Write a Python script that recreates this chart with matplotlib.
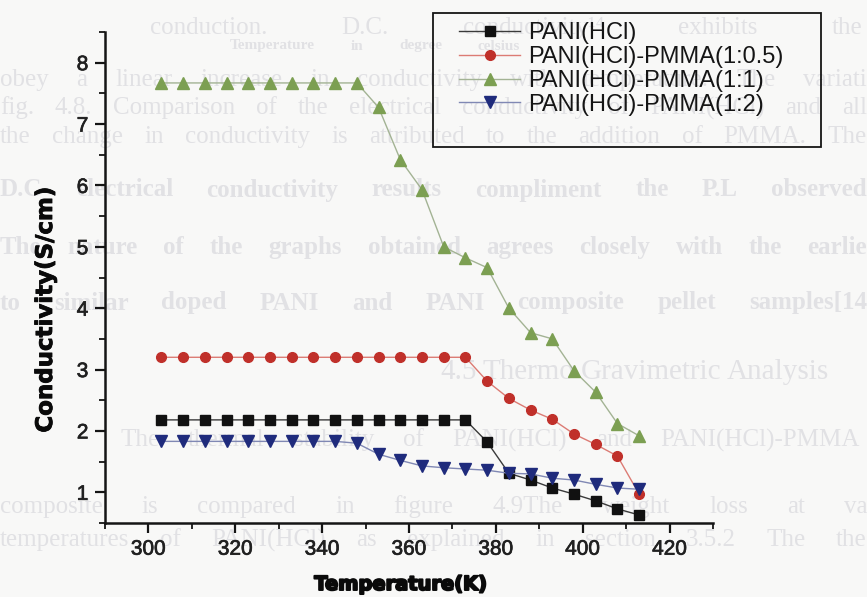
import matplotlib
matplotlib.use("Agg")
import matplotlib.pyplot as plt
from matplotlib.ticker import MultipleLocator
from matplotlib.patches import Rectangle
import matplotlib.patheffects as pe

# ---- data -------------------------------------------------------------
temperature_K = [303, 308, 313, 318, 323, 328, 333, 338, 343, 348, 353, 358,
                 363, 368, 373, 378, 383, 388, 393, 398, 403, 408, 413]

pani_hcl = [2.18, 2.18, 2.18, 2.18, 2.18, 2.18, 2.18, 2.18, 2.18, 2.18, 2.18, 2.18,
            2.18, 2.18, 2.18, 1.82, 1.31, 1.20, 1.07, 0.97, 0.86, 0.73, 0.63]

pmma_1_05 = [3.20, 3.20, 3.20, 3.20, 3.20, 3.20, 3.20, 3.20, 3.20, 3.20, 3.20, 3.20,
             3.20, 3.20, 3.20, 2.81, 2.53, 2.34, 2.19, 1.95, 1.78, 1.59, 0.97]

pmma_1_1 = [7.67, 7.67, 7.67, 7.67, 7.67, 7.67, 7.67, 7.67, 7.67, 7.67, 7.27, 6.42,
            5.93, 5.00, 4.82, 4.66, 4.00, 3.60, 3.50, 2.98, 2.63, 2.12, 1.92]

pmma_1_2 = [1.83, 1.83, 1.83, 1.83, 1.83, 1.83, 1.83, 1.83, 1.83, 1.80, 1.62, 1.52,
            1.43, 1.40, 1.38, 1.36, 1.31, 1.30, 1.23, 1.20, 1.13, 1.07, 1.05]

series_labels = ["PANI(HCl)", "PANI(HCl)-PMMA(1:0.5)",
                 "PANI(HCl)-PMMA(1:1)", "PANI(HCl)-PMMA(1:2)"]

x_ticks = [300, 320, 340, 360, 380, 400, 420]
y_ticks = [1, 2, 3, 4, 5, 6, 7, 8]

# faint print-through from the scanned page (y px, x0 px, x1 px, text, size, weight)
page_lines = [
    (28, 150, 862, "conduction.  D.C.  conductivity¹⁴  exhibits  the", 18, "normal"),
    (46, 230, 520, "Temperature in degree celsius", 11, "bold"),
    (80, 0, 867, "obey a linear increase in conductivity with temperature. The variati", 18, "normal"),
    (108, 0, 867, "fig. 4.8. Comparison of the electrical conductivity of PANI(HCl) and all", 18, "normal"),
    (137, 0, 867, "the change in conductivity is attributed to the addition of PMMA. The", 18, "normal"),
    (190, 0, 867, "D.C electrical conductivity results compliment the P.L observed", 18, "bold"),
    (247, 0, 867, "The nature of the graphs obtained agrees closely with the earlie", 18, "bold"),
    (303, 0, 867, "to similar doped PANI and PANI composite pellet samples[14", 18, "bold"),
    (372, 440, 790, "4.5  Thermo Gravimetric Analysis", 21, "normal"),
    (440, 120, 860, "The thermal stability of PANI(HCl) and PANI(HCl)-PMMA", 18, "normal"),
    (507, 0, 867, "composite is compared in figure 4.9The weight loss at va", 18, "normal"),
    (540, 0, 867, "temperatures of PANI(HCl) as explained in section 3.5.2 The the", 18, "normal"),
]

# ---- figure -------------------------------------------------------------
W, H = 867, 597
PAGE = "#f8f8f7"
INK = "#e1e1e4"

fig = plt.figure(figsize=(W / 100, H / 100), dpi=100, facecolor=PAGE)
ax = fig.add_axes([105 / W, 1 - 523 / H, (713 - 105) / W, (523 - 32) / H])
ax.set_facecolor("none")

renderer = fig.canvas.get_renderer()
for y_px, x0, x1, text, size, weight in page_lines:
    words = text.split()
    objs = [fig.text(0, 0, w, fontsize=size, fontweight=weight,
                     family="Liberation Serif", color=INK,
                     va="center", ha="left", zorder=-5) for w in words]
    widths = [o.get_window_extent(renderer).width for o in objs]
    gap = max((x1 - x0 - sum(widths)) / max(len(words) - 1, 1), 6)
    x = x0
    for o, w in zip(objs, widths):
        o.set_position((x / W, 1 - y_px / H))
        x += w + gap

styles = [
    dict(marker="s", ms=6.5, mfc="#111111", mec="#111111", color="#3a3a3a"),
    dict(marker="o", ms=7.0, mfc="#c0302a", mec="#c0302a", color="#dc7b74"),
    dict(marker="^", ms=8.0, mfc="#7c9f52", mec="#7c9f52", color="#a3b394"),
    dict(marker="v", ms=8.0, mfc="#1f2b7c", mec="#1f2b7c", color="#8088b4"),
]
for vals, lab, st in zip([pani_hcl, pmma_1_05, pmma_1_1, pmma_1_2], series_labels, styles):
    ax.plot(temperature_K, vals, lw=1.0, label=lab, **st)

ax.set_xlim(290, 430)
ax.set_ylim(0.5, 8.5)
ax.set_xticks(x_ticks)
ax.set_yticks(y_ticks)
ax.xaxis.set_minor_locator(MultipleLocator(10))
ax.yaxis.set_minor_locator(MultipleLocator(0.5))

for s in ["top", "right"]:
    ax.spines[s].set_visible(False)
for s in ["left", "bottom"]:
    ax.spines[s].set_linewidth(1.8)
    ax.spines[s].set_color("#151515")

ax.tick_params(which="major", direction="out", length=7, width=1.6,
               labelsize=15, pad=5, colors="#151515")
ax.tick_params(which="minor", direction="out", length=4, width=1.3, colors="#151515")
for lbl in ax.get_xticklabels() + ax.get_yticklabels():
    lbl.set_family("Liberation Sans")
    lbl.set_color("#202020")
    lbl.set_path_effects([pe.withStroke(linewidth=0.5, foreground="#202020")])

ax.set_xlabel("Temperature(K)", family="DejaVu Sans", fontweight="bold",
              fontsize=14, color="#0a0a0a",
              path_effects=[pe.withStroke(linewidth=1.4, foreground="#0a0a0a")])
ax.set_ylabel("Conductivity(S/cm)", family="DejaVu Sans", fontweight="bold",
              fontsize=16.5, color="#0a0a0a",
              path_effects=[pe.withStroke(linewidth=0.6, foreground="#0a0a0a")])
ax.xaxis.set_label_coords((401 - 105) / 608, (523 - 575) / 491)
ax.yaxis.set_label_coords((57 - 105) / 608, (523 - 310) / 491)

# legend entries, with a square frame drawn around them
leg = ax.legend(loc="upper left", bbox_to_anchor=(459 / W, 1 - 22 / H),
                bbox_transform=fig.transFigure,
                prop={"family": "Liberation Sans", "size": 17},
                handlelength=2.6, handletextpad=0.32, labelspacing=0.08,
                borderpad=0.0, borderaxespad=0, frameon=False)
for t in leg.get_texts():
    t.set_color("#151515")
fig.patches.append(Rectangle((433 / W, 1 - 147 / H), (821 - 433) / W, (147 - 13) / H,
                             transform=fig.transFigure, fill=False,
                             edgecolor="#151515", linewidth=1.3, zorder=5))

fig.savefig("out.png", dpi=100, facecolor=PAGE)
